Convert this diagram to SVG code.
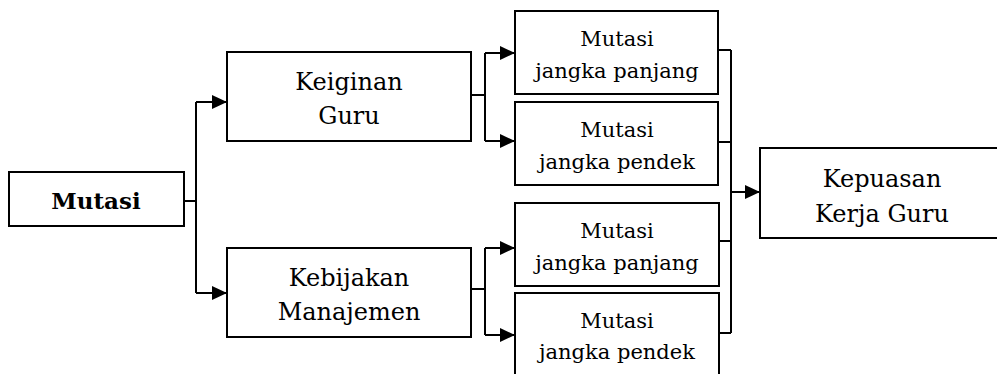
<svg xmlns="http://www.w3.org/2000/svg" width="997" height="374" viewBox="0 0 997 374">
<style>
.box{fill:#fff;stroke:#000;stroke-width:2}
text{fill:#000;text-anchor:middle;font-family:"DejaVu Serif",serif}
.big{font-size:24px}
.sm{font-size:21px}
.b{font-weight:bold;font-size:23px}
.c{fill:none;stroke:#000;stroke-width:2}
</style>
<defs>
<marker id="ah" markerUnits="userSpaceOnUse" markerWidth="16" markerHeight="14" refX="15" refY="7" orient="auto">
<path d="M0,0 L15,7 L0,14 Z" fill="#000"/>
</marker>
</defs>
<g id="connectors">
<path class="c" d="M184,201 H196 M196,102 V293"/>
<path class="c" d="M196,102 H227" marker-end="url(#ah)"/>
<path class="c" d="M196,293 H227" marker-end="url(#ah)"/>
<path class="c" d="M471,95 H485 M485,53 V141"/>
<path class="c" d="M485,53 H515" marker-end="url(#ah)"/>
<path class="c" d="M485,141 H515" marker-end="url(#ah)"/>
<path class="c" d="M471,289 H485 M485,248 V335"/>
<path class="c" d="M485,248 H515" marker-end="url(#ah)"/>
<path class="c" d="M485,335 H515" marker-end="url(#ah)"/>
<path class="c" d="M718,50 H731 M718,142 H731 M719,241 H731 M719,333 H731 M731,50 V333"/>
<path class="c" d="M731,192 H760" marker-end="url(#ah)"/>
</g>
<g id="mutasi">
<rect class="box" x="9" y="172" width="175" height="54"/>
<text class="b" x="96" y="209">Mutasi</text>
</g>
<g id="keinginan">
<rect class="box" x="227" y="52" width="244" height="89"/>
<text class="big" x="349" y="90">Keiginan</text>
<text class="big" x="349" y="124">Guru</text>
</g>
<g id="kebijakan">
<rect class="box" x="227" y="248" width="244" height="89"/>
<text class="big" x="349" y="286">Kebijakan</text>
<text class="big" x="349" y="320">Manajemen</text>
</g>
<g id="mp1">
<rect class="box" x="515" y="11" width="203" height="83"/>
<text class="sm" x="617" y="46">Mutasi</text>
<text class="sm" x="617" y="78">jangka panjang</text>
</g>
<g id="mpd1">
<rect class="box" x="515" y="102" width="203" height="83"/>
<text class="sm" x="617" y="137">Mutasi</text>
<text class="sm" x="617" y="169">jangka pendek</text>
</g>
<g id="mp2">
<rect class="box" x="515" y="203" width="204" height="83"/>
<text class="sm" x="617" y="238">Mutasi</text>
<text class="sm" x="617" y="270">jangka panjang</text>
</g>
<g id="mpd2">
<rect class="box" x="515" y="293" width="204" height="85"/>
<text class="sm" x="617" y="328">Mutasi</text>
<text class="sm" x="617" y="359">jangka pendek</text>
</g>
<g id="kepuasan">
<rect class="box" x="760" y="148" width="243" height="90"/>
<text class="big" x="882" y="187">Kepuasan</text>
<text class="big" x="882" y="222">Kerja Guru</text>
</g>
</svg>
